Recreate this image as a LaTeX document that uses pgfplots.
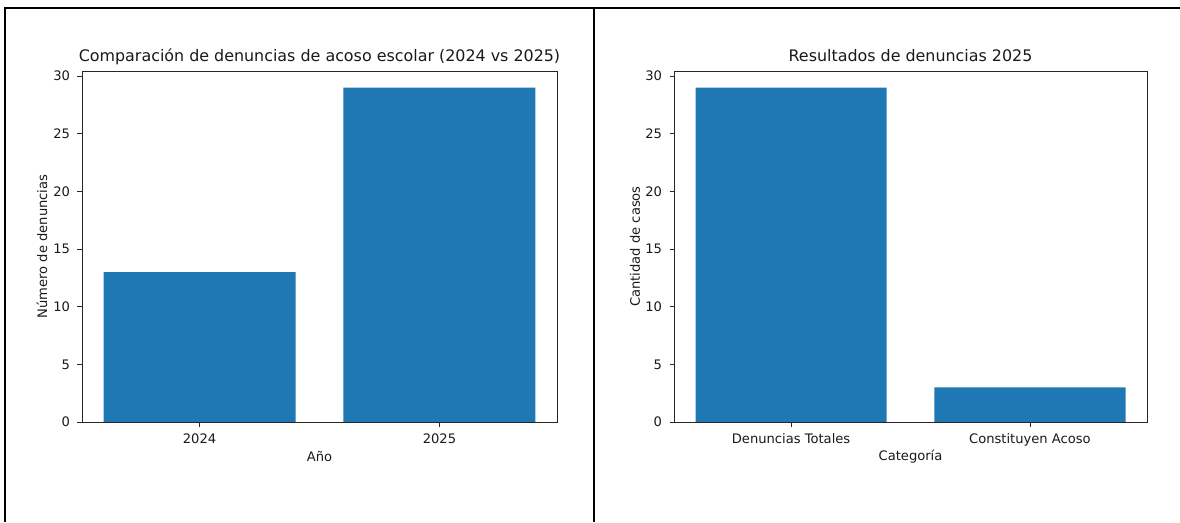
\documentclass[border=0pt]{standalone}
\usepackage{fontspec}
\setmainfont{DejaVu Sans}
\usepackage{pgfplots}
\pgfplotsset{compat=1.18}
\definecolor{mplblue}{HTML}{1F77B4}
\newcommand{\tickfont}{\fontsize{13.1}{15.5}\selectfont}
\newcommand{\titlefont}{\fontsize{15.9}{18.5}\selectfont}
\pgfplotsset{
  mystyle/.style={
    scale only axis,
    anchor=south west,
    height=351pt,
    ymin=0, ymax=30.45,
    xmin=-0.49, xmax=1.49,
    ytick={0,5,10,15,20,25,30},
    xtick={0,1},
    axis line style={black!85, line width=0.9pt},
    tick style={black!85, line width=0.9pt},
    tick align=outside,
    major tick length=4.5pt,
    xtick pos=bottom, ytick pos=left,
    /pgf/number format/assume math mode=true,
    tick label style={font=\tickfont, text=black!90},
    yticklabel style={xshift=-4pt},
    xticklabel style={yshift=-4pt},
    label style={font=\tickfont, text=black!90},
    title style={font=\titlefont, text=black!90, at={(axis description cs:0.5,1)}, anchor=base, yshift=3pt},
    xlabel style={at={(axis description cs:0.5,-0.0997)}, anchor=center},
    ybar, bar width=0.8, bar shift=0pt,
  }
}
\begin{document}
\begin{tikzpicture}
\path[use as bounding box] (0pt,0pt) rectangle (1180pt,522pt);
\draw[line width=2pt, black] (4pt,513.5pt) -- (1180pt,513.5pt);
\draw[line width=2pt, black] (5pt,0pt) -- (5pt,514.5pt);
\draw[line width=2pt, black] (594pt,0pt) -- (594pt,514.5pt);
\begin{axis}[mystyle,
  at={(82pt,100pt)}, width=475pt,
  xticklabels={2024,2025},
  title={Comparación de denuncias de acoso escolar (2024 vs 2025)},
  xlabel={Año},
  ylabel={Número de denuncias},
  ylabel style={at={(axis description cs:-0.0842,0.5)}, anchor=center, rotate=0},
]
\addplot[fill=mplblue, draw=none] coordinates {(0,13) (1,29)};
\end{axis}
\begin{axis}[mystyle,
  at={(674pt,100pt)}, width=473pt,
  xticklabels={Denuncias Totales,Constituyen Acoso},
  title={Resultados de denuncias 2025},
  xlabel={Categoría},
  ylabel={Cantidad de casos},
  ylabel style={at={(axis description cs:-0.0825,0.5)}, anchor=center, rotate=0},
]
\addplot[fill=mplblue, draw=none] coordinates {(0,29) (1,3)};
\end{axis}
\end{tikzpicture}
\end{document}
